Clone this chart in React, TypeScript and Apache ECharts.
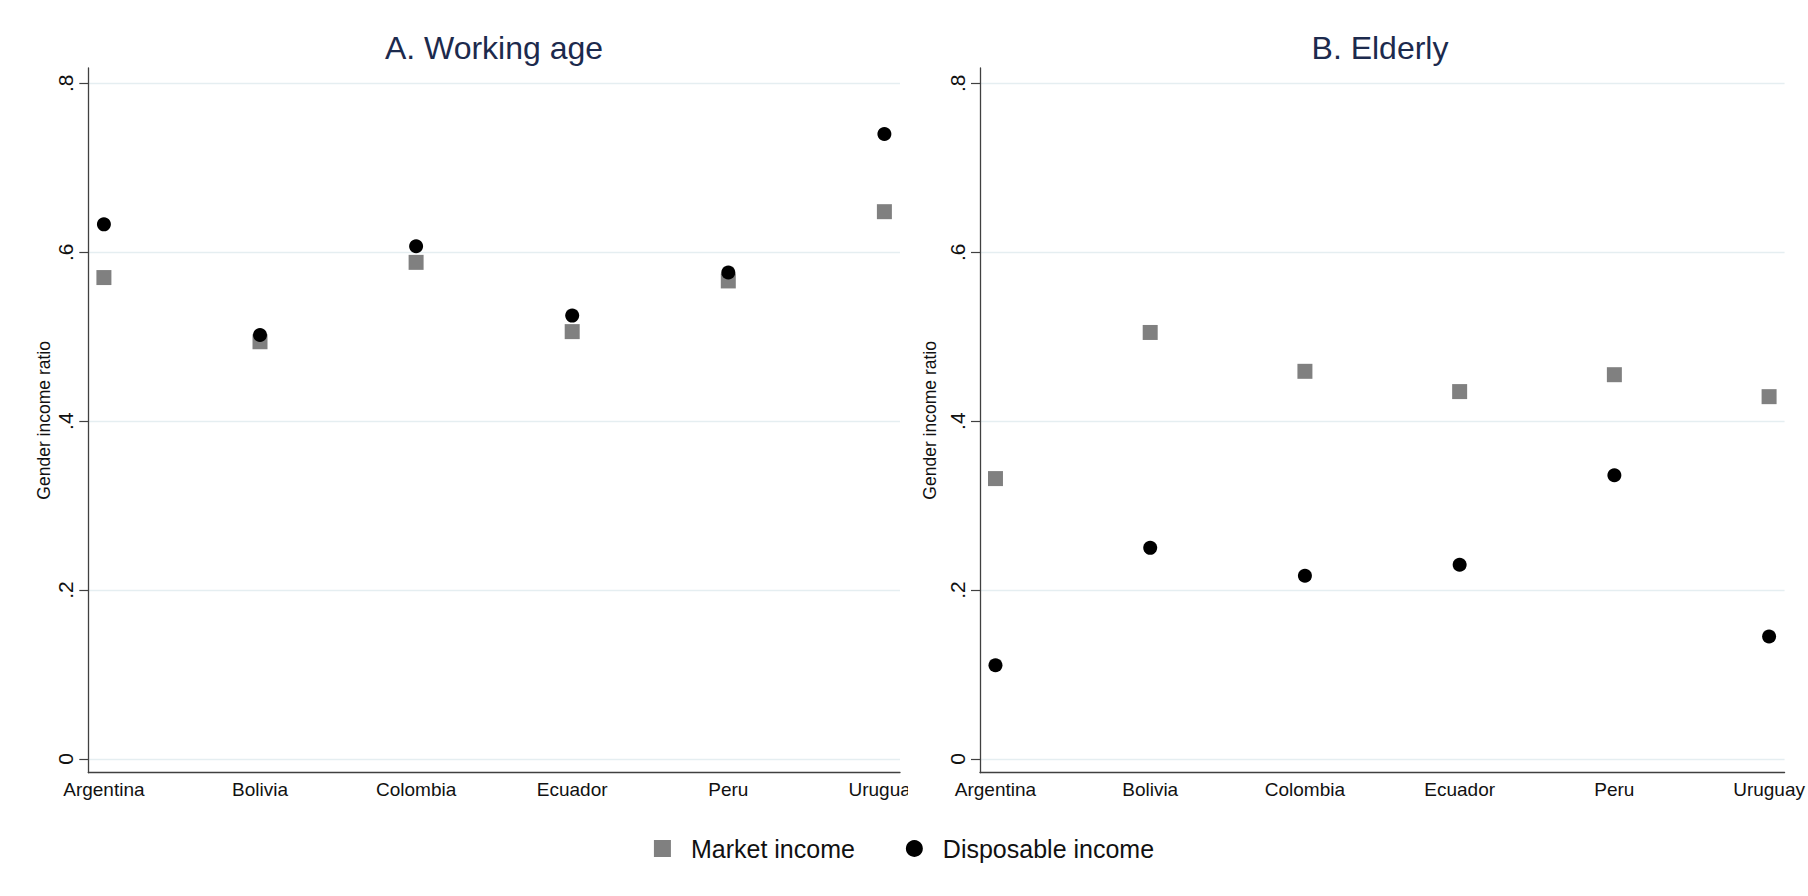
import React, { useEffect, useRef } from 'react';
import * as echarts from 'echarts';

const countries = ['Argentina', 'Bolivia', 'Colombia', 'Ecuador', 'Peru', 'Uruguay'];
const workingMarket = [0.570, 0.494, 0.588, 0.506, 0.566, 0.648];
const workingDisposable = [0.633, 0.502, 0.607, 0.525, 0.576, 0.740];
const elderlyMarket = [0.332, 0.505, 0.459, 0.435, 0.455, 0.429];
const elderlyDisposable = [0.111, 0.250, 0.217, 0.230, 0.336, 0.145];
const yTickValues = [0, 0.2, 0.4, 0.6, 0.8];
const yTickLabels = ['0', '.2', '.4', '.6', '.8'];
const panelTitles = ['A. Working age', 'B. Elderly'];
const seriesNames = ['Market income', 'Disposable income'];
const yAxisTitle = 'Gender income ratio';

const FONT = '"Liberation Sans", Arial, Helvetica, sans-serif';
const AXIS_COLOR = '#404040';
const GRID_COLOR = '#e5eef1';
const MARKET_COLOR = '#808080';
const DISP_COLOR = '#000000';
const TITLE_COLOR = '#1c2a4d';

const xPositions = countries.map((_, i) => i + 1);
const toPoints = (vals: number[]) => vals.map((v, i) => [xPositions[i], v]);

export default function App() {
  const ref = useRef<HTMLDivElement>(null);

  useEffect(() => {
    if (!ref.current) return;
    const chart = echarts.init(ref.current, undefined, { renderer: 'svg' });

    const makeX = (gridIndex: number) => ({
      type: 'value',
      gridIndex,
      min: 0.9,
      max: 6.1,
      axisLine: { show: true, onZero: false, lineStyle: { color: AXIS_COLOR, width: 1.3 } },
      axisTick: { show: false },
      splitLine: { show: false },
      axisLabel: {
        customValues: xPositions,
        formatter: (v: number) => countries[Math.round(v) - 1] ?? '',
        fontSize: 19,
        fontFamily: FONT,
        color: '#111',
        margin: 7,
      },
    });

    const makeY = (gridIndex: number, nameGap: number) => ({
      type: 'value',
      gridIndex,
      min: -0.0162,
      max: 0.8181,
      name: yAxisTitle,
      nameLocation: 'middle',
      nameRotate: 90,
      nameGap,
      nameTextStyle: { fontSize: 17.5, fontFamily: FONT, color: '#111' },
      axisLine: { show: true, onZero: false, lineStyle: { color: AXIS_COLOR, width: 1.3 } },
      axisTick: {
        show: true,
        customValues: yTickValues,
        length: 9,
        lineStyle: { color: AXIS_COLOR, width: 1.2 },
      },
      splitLine: { show: true, lineStyle: { color: GRID_COLOR, width: 1.3 } },
      axisLabel: {
        customValues: yTickValues,
        formatter: (v: number) => {
          const idx = yTickValues.findIndex((t) => Math.abs(t - v) < 1e-6);
          return idx >= 0 ? yTickLabels[idx] : '';
        },
        rotate: 90,
        fontSize: 21,
        fontFamily: FONT,
        color: '#111',
        margin: 12,
      },
    });

    const scatter = (name: string, vals: number[], idx: number, symbol: string, size: number, color: string) => ({
      type: 'scatter',
      name,
      xAxisIndex: idx,
      yAxisIndex: idx,
      data: toPoints(vals),
      symbol,
      symbolSize: size,
      itemStyle: { color, opacity: 1 },
      emphasis: { disabled: true },
    });

    chart.setOption({
      animation: false,
      backgroundColor: '#ffffff',
      textStyle: { fontFamily: FONT },
      grid: [
        { left: 88.3, right: 908, top: 68, bottom: 123.3, containLabel: false },
        { left: 980, right: 21.3, top: 68, bottom: 123.3, containLabel: false },
      ],
      xAxis: [makeX(0), makeX(1)],
      yAxis: [makeY(0, 35), makeY(1, 41)],
      legend: {
        data: [
          { name: seriesNames[0], icon: 'rect' },
          { name: seriesNames[1], icon: 'circle' },
        ],
        left: 'center',
        top: 836,
        padding: 0,
        itemWidth: 17,
        itemHeight: 17,
        itemGap: 51,
        selectedMode: false,
        textStyle: { fontSize: 25, fontFamily: FONT, color: '#111', padding: [0, 0, 0, 15] },
      },
      graphic: [
        {
          type: 'text',
          x: 494,
          y: 47.5,
          style: {
            text: panelTitles[0],
            fontSize: 32,
            fontFamily: FONT,
            fill: TITLE_COLOR,
            align: 'center',
            verticalAlign: 'middle',
          },
        },
        {
          type: 'text',
          x: 1380,
          y: 47.5,
          style: {
            text: panelTitles[1],
            fontSize: 32,
            fontFamily: FONT,
            fill: TITLE_COLOR,
            align: 'center',
            verticalAlign: 'middle',
          },
        },
        {
          type: 'rect',
          z: 100,
          shape: { x: 908, y: 776, width: 20, height: 30 },
          style: { fill: '#ffffff' },
        },
      ],
      series: [
        scatter(seriesNames[0], workingMarket, 0, 'rect', 15, MARKET_COLOR),
        scatter(seriesNames[1], workingDisposable, 0, 'circle', 14, DISP_COLOR),
        scatter(seriesNames[0], elderlyMarket, 1, 'rect', 15, MARKET_COLOR),
        scatter(seriesNames[1], elderlyDisposable, 1, 'circle', 14, DISP_COLOR),
      ],
    });

    return () => chart.dispose();
  }, []);

  return (
    <div
      ref={ref}
      style={{ position: 'fixed', left: 0, top: 0, width: 1808, height: 896, background: '#fff' }}
    />
  );
}
